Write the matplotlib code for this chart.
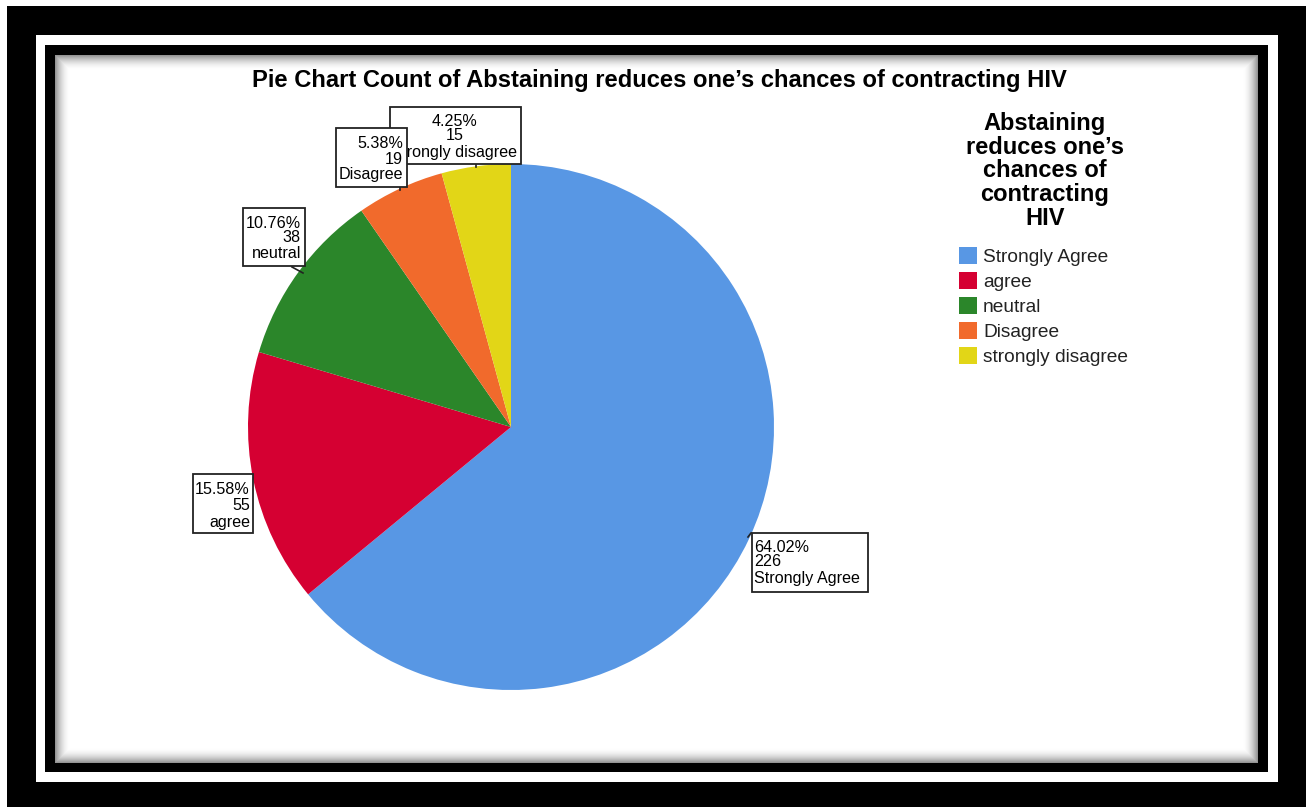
import numpy as np
import matplotlib
matplotlib.use("Agg")
import matplotlib.pyplot as plt
from matplotlib.patches import Rectangle

# ---- data ----
categories = ["Strongly Agree", "agree", "neutral", "Disagree", "strongly disagree"]
counts = [226, 55, 38, 19, 15]
colors = ["#5897E4", "#D50032", "#2B862A", "#F16A2C", "#E2D617"]
title = "Pie Chart Count of Abstaining reduces one\u2019s chances of contracting HIV"
legend_title = "Abstaining\nreduces one\u2019s\nchances of\ncontracting\nHIV"

W, H = 1311, 807
FONT = "Liberation Sans"
plt.rcParams["font.family"] = [FONT, "DejaVu Sans"]

fig = plt.figure(figsize=(W / 100, H / 100), dpi=100, facecolor="white")

# background / frame axes in pixel coordinates
bg = fig.add_axes([0, 0, 1, 1])
bg.set_xlim(0, W)
bg.set_ylim(H, 0)
bg.axis("off")

def rect(ax, x0, y0, x1, y1, **kw):
    r = Rectangle((x0, y0), x1 - x0, y1 - y0, **kw)
    ax.add_patch(r)
    return r

rect(bg, 7, 6, 1306, 807, facecolor="black", edgecolor="none")
rect(bg, 36, 35, 1278, 782, facecolor="white", edgecolor="none")
rect(bg, 45, 45, 1268, 772, facecolor="black", edgecolor="none")
cx0, cy0, cx1, cy1 = 55, 55, 1258, 763
rect(bg, cx0, cy0, cx1, cy1, facecolor="white", edgecolor="none")

# inner shadow along content edges
xs = np.arange(cx0, cx1) + 0.5
ys = np.arange(cy0, cy1) + 0.5
dx = np.minimum(xs - cx0, cx1 - xs)[None, :]
dy = np.minimum(ys - cy0, cy1 - ys)[:, None]
d = np.minimum(dx, dy)
alpha = np.clip(1 - d / 16.0, 0, 1) ** 2 * 0.45
shadow = np.zeros((len(ys), len(xs), 4))
shadow[..., 3] = alpha
bg.imshow(shadow, extent=(cx0, cx1, cy1, cy0), interpolation="bilinear", zorder=2)
bg.set_xlim(0, W)
bg.set_ylim(H, 0)
bg.set_aspect("auto")

# title
bg.text(659, 80, title, ha="center", va="center", fontsize=17.1,
        fontweight="bold", family=FONT, color="black", zorder=5)

# legend title
bg.text(1045, 112, legend_title, ha="center", va="top", multialignment="center",
        fontsize=17.0, fontweight="bold", family=FONT, color="black",
        linespacing=1.04, zorder=5)

# pie axes: center (511, 427), radius 263 px
pl, pr, pt, pb = 248, 774, 164, 690
ax = fig.add_axes([pl / W, (H - pb) / H, (pr - pl) / W, (pb - pt) / H])
wedges, _ = ax.pie(counts, colors=colors, startangle=90, counterclock=False,
                   wedgeprops=dict(linewidth=0))
ax.set_xlim(-1, 1)
ax.set_ylim(-1, 1)
ax.axis("off")

# overlay axes for label boxes
ov = fig.add_axes([0, 0, 1, 1])
ov.set_xlim(0, W)
ov.set_ylim(H, 0)
ov.axis("off")
ov.patch.set_alpha(0)

total = sum(counts)
# box geometry: (x0, y0, x1, y1, align, text_x, line_y list, zorder)
boxes = [
    (752, 533, 868, 592, "left", 754, [547, 562, 578], 3),
    (193, 474, 253, 533, "right", 250, [489, 506, 522], 3),
    (243, 208, 305, 266, "right", 301, [223, 238, 254], 3),
    (336, 128, 407, 187, "right", 403, [143, 159, 175], 6),
    (390, 107, 521, 164, "center", 455, [121, 136, 152], 3),
]
leaders = [
    [(751, 533), (748, 537)],
    None,
    [(292, 267), (303, 273)],
    [(400, 187), (400, 190)],
    [(476, 164), (476, 167)],
]
for i, (cat, cnt) in enumerate(zip(categories, counts)):
    x0, y0, x1, y1, al, tx, lys, z = boxes[i]
    rect(ov, x0, y0, x1, y1, facecolor="white", edgecolor="#222222",
         linewidth=1.3, zorder=z)
    lines = [f"{cnt / total * 100:.2f}%", f"{cnt}", cat]
    for s, ly in zip(lines, lys):
        ov.text(tx, ly, s, ha=al, va="center", fontsize=11.6,
                family=FONT, color="black", zorder=z + 0.5)
    if leaders[i] is not None:
        (a, b), (c, e) = leaders[i]
        ov.plot([a, c], [b, e], color="#222222", linewidth=1.2, zorder=2)

# legend (entries only; title drawn above)
leg = fig.legend(wedges, categories, loc="upper left",
                 bbox_to_anchor=(959 / W, 1 - 247 / H),
                 frameon=False, borderpad=0, borderaxespad=0,
                 handlelength=0.95, handleheight=1.0, handletextpad=0.3,
                 labelspacing=0.3, fontsize=13.8,
                 prop={"family": FONT, "size": 13.8})
for txt in leg.get_texts():
    txt.set_color("#222222")

fig.savefig("out.png", dpi=100, facecolor="white")
